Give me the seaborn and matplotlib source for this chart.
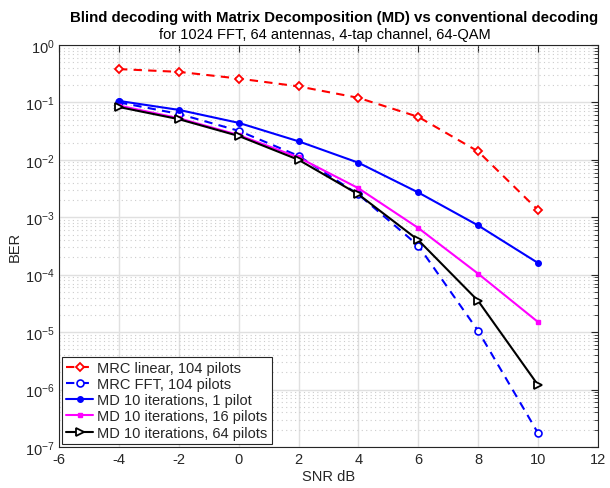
import matplotlib
matplotlib.use("Agg")
import matplotlib.pyplot as plt
import seaborn as sns
import pandas as pd
import numpy as np
from matplotlib.ticker import FixedLocator, NullFormatter, LogFormatterSciNotation

snr = [-4, -2, 0, 2, 4, 6, 8, 10]
mrc_linear = [0.38, 0.34, 0.26, 0.19, 0.12, 0.056, 0.014, 0.00134]
mrc_fft = [0.10, 0.063, 0.032, 0.0117, 0.0025, 3.2e-4, 1.05e-5, 1.75e-7]
md_1 = [0.106, 0.074, 0.044, 0.021, 0.0089, 0.0027, 7.2e-4, 1.6e-4]
md_16 = [0.088, 0.053, 0.027, 0.011, 0.0032, 6.5e-4, 1.04e-4, 1.5e-5]
md_64 = [0.083, 0.051, 0.026, 0.010, 0.0025, 4.0e-4, 3.5e-5, 1.2e-6]

x_ticks = [-6, -4, -2, 0, 2, 4, 6, 8, 10, 12]
y_exponents = [-7, -6, -5, -4, -3, -2, -1, 0]

labels = ["MRC linear, 104 pilots", "MRC FFT, 104 pilots",
          "MD 10 iterations, 1 pilot", "MD 10 iterations, 16 pilots",
          "MD 10 iterations, 64 pilots"]
series = [mrc_linear, mrc_fft, md_1, md_16, md_64]

rows = []
for lab, vals in zip(labels, series):
    for x, v in zip(snr, vals):
        rows.append({"SNR": x, "BER": v, "series": lab})
df = pd.DataFrame(rows)

sns.set_style("white")
plt.rcParams['font.family'] = ['Liberation Sans', 'DejaVu Sans']
plt.rcParams['axes.unicode_minus'] = False

styles = {
    labels[0]: dict(color="#ff0000", ls=(0, (4, 3)), marker="D", ms=4.5, mfc="white", mew=1.3),
    labels[1]: dict(color="#0000ff", ls=(0, (4, 3)), marker="o", ms=5, mfc="white", mew=1.2),
    labels[2]: dict(color="#0000ff", ls="-", marker="o", ms=4, mfc="#0000ff", mew=1),
    labels[3]: dict(color="#ff00ff", ls="-", marker="s", ms=3.5, mfc="#ff00ff", mew=1),
    labels[4]: dict(color="#000000", ls="-", marker=">", ms=5.5, mfc="white", mew=1.3),
}

fig = plt.figure(figsize=(6.1, 4.89), dpi=100)
ax = fig.add_axes([0.097, 0.084, 0.883, 0.822])

for lab in labels:
    st = styles[lab]
    sub = df[df["series"] == lab]
    sns.lineplot(data=sub, x="SNR", y="BER", ax=ax, color=st["color"], label=lab,
                 linestyle=st["ls"], marker=st["marker"], markersize=st["ms"],
                 markerfacecolor=st["mfc"], markeredgecolor=st["color"],
                 markeredgewidth=st["mew"], linewidth=1.5)

ax.set_yscale("log")
ax.set_xlim(-6, 12)
ax.set_ylim(1e-7, 1)
ax.set_xticks(x_ticks)
ax.set_yticks([10.0 ** e for e in y_exponents])
ax.yaxis.set_major_formatter(LogFormatterSciNotation())
minor = [m * 10.0 ** e for e in y_exponents[:-1] for m in range(2, 10)]
ax.yaxis.set_minor_locator(FixedLocator(minor))
ax.yaxis.set_minor_formatter(NullFormatter())

ax.grid(True, which="major", color="#e0e0e0", linewidth=1.0, linestyle="-")
ax.grid(True, which="minor", axis="y", color="#cccccc", linewidth=0.8, linestyle=(0, (1, 3)))
ax.set_axisbelow(True)

ax.tick_params(which="both", direction="in", top=True, right=True, labelsize=10.5, colors="#262626")
ax.tick_params(which="major", length=5)
ax.tick_params(which="minor", length=3)
for sp in ax.spines.values():
    sp.set_color("#262626")
    sp.set_linewidth(0.8)

ax.set_xlabel("SNR dB", fontsize=10.5, color="#262626", labelpad=2)
ax.set_ylabel("BER", fontsize=10.5, color="#262626", labelpad=2)

fig.text(0.547, 0.964, "Blind decoding with Matrix Decomposition (MD) vs conventional decoding",
         ha="center", va="center", fontsize=10.8, fontweight="bold", color="black")
fig.text(0.532, 0.929, "for 1024 FFT, 64 antennas, 4-tap channel, 64-QAM",
         ha="center", va="center", fontsize=10.5, color="black")

leg = ax.legend(loc="lower left", fontsize=10.5, frameon=True, fancybox=False,
                edgecolor="#262626", framealpha=1, borderaxespad=0.2,
                handlelength=1.8, handletextpad=0.3, labelspacing=0.15,
                borderpad=0.3)
leg.get_frame().set_linewidth(0.8)

fig.savefig("out.png", dpi=100)
